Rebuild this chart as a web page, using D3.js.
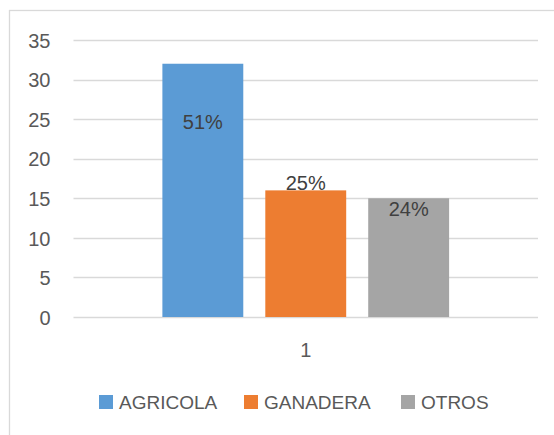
<!DOCTYPE html>
<html>
<head>
<meta charset="utf-8">
<script src="https://cdn.jsdelivr.net/npm/d3@7"></script>
<style>
	body { margin: 0; background: #fff; }
	svg { display: block; font-family: "Liberation Sans", Arial, sans-serif; }
</style>
</head>
<body>
<svg id="chart" width="554" height="435"></svg>
<script>
// chart data
const categories = ["1"];
const seriesNames = ["AGRICOLA", "GANADERA", "OTROS"];
const seriesValues = [32, 16, 15];
const pctLabels = ["51%", "25%", "24%"];
const labelAt = [23.7, 16.1, 12.8]; // where each % label sits, in axis units
const yTicks = [0, 5, 10, 15, 20, 25, 30, 35];
const colors = ["#5B9BD5", "#ED7D31", "#A5A5A5"];

const svg = d3.select("#chart");
const textColor = "#595959";

// outer chart border (runs off the right and bottom edge)
svg.append("rect")
	.attr("x", 9.5).attr("y", 10.5)
	.attr("width", 700).attr("height", 700)
	.attr("fill", "none")
	.attr("stroke", "#d9d9d9")
	.attr("stroke-width", 1.3);

const plotLeft = 73.5, plotRight = 538, plotTop = 40, plotBottom = 317;

const y = d3.scaleLinear().domain([0, 35]).range([plotBottom, plotTop]);

const x0 = d3.scaleBand()
	.domain(categories)
	.range([plotLeft, plotRight])
	.paddingInner(0)
	.paddingOuter(0.31);

const x1 = d3.scaleBand()
	.domain(seriesNames)
	.range([0, x0.bandwidth()])
	.paddingInner(0.214);

// gridlines
svg.append("g")
	.selectAll("line")
	.data(yTicks)
	.enter()
	.append("line")
	.attr("x1", plotLeft).attr("x2", plotRight)
	.attr("y1", d => Math.round(y(d)) + 0.5)
	.attr("y2", d => Math.round(y(d)) + 0.5)
	.attr("stroke", "#d9d9d9")
	.attr("stroke-width", 1.3);

// y tick labels
const yAxis = svg.append("g")
	.attr("transform", `translate(${plotLeft - 23},0)`)
	.call(d3.axisLeft(y).tickValues(yTicks).tickSize(0).tickPadding(0));
yAxis.select(".domain").remove();
yAxis.selectAll("text")
	.attr("fill", textColor)
	.attr("font-size", "20px")
	.attr("dy", "0.36em")
	.attr("font-family", "Liberation Sans, Arial, sans-serif");

// bars
const group = svg.append("g")
	.selectAll("g")
	.data(categories)
	.enter()
	.append("g")
	.attr("transform", d => `translate(${x0(d)},0)`);

group.selectAll("rect")
	.data(seriesNames.map((name, i) => ({ name, value: seriesValues[i], i })))
	.enter()
	.append("rect")
	.attr("x", d => x1(d.name))
	.attr("y", d => y(d.value))
	.attr("width", x1.bandwidth())
	.attr("height", d => y(0) - y(d.value))
	.attr("fill", d => colors[d.i]);

// data labels
group.selectAll("text.label")
	.data(seriesNames.map((name, i) => ({ name, i })))
	.enter()
	.append("text")
	.attr("class", "label")
	.attr("x", d => x1(d.name) + x1.bandwidth() / 2)
	.attr("y", d => y(labelAt[d.i]))
	.attr("text-anchor", "middle")
	.attr("font-size", "20px")
	.attr("fill", "#404040")
	.text(d => pctLabels[d.i]);

// x category label
svg.append("g")
	.selectAll("text")
	.data(categories)
	.enter()
	.append("text")
	.attr("x", d => x0(d) + x0.bandwidth() / 2)
	.attr("y", 356.5)
	.attr("text-anchor", "middle")
	.attr("font-size", "20px")
	.attr("fill", textColor)
	.text(d => d);

// legend
const legendX = [99, 244, 401];
const legend = svg.append("g")
	.selectAll("g")
	.data(seriesNames)
	.enter()
	.append("g")
	.attr("transform", (d, i) => `translate(${legendX[i]},395)`);

legend.append("rect")
	.attr("width", 14).attr("height", 14)
	.attr("fill", (d, i) => colors[i]);

legend.append("text")
	.attr("x", 20)
	.attr("y", 14.3)
	.attr("font-size", "19px")
	.attr("fill", textColor)
	.text(d => d);
</script>
</body>
</html>
